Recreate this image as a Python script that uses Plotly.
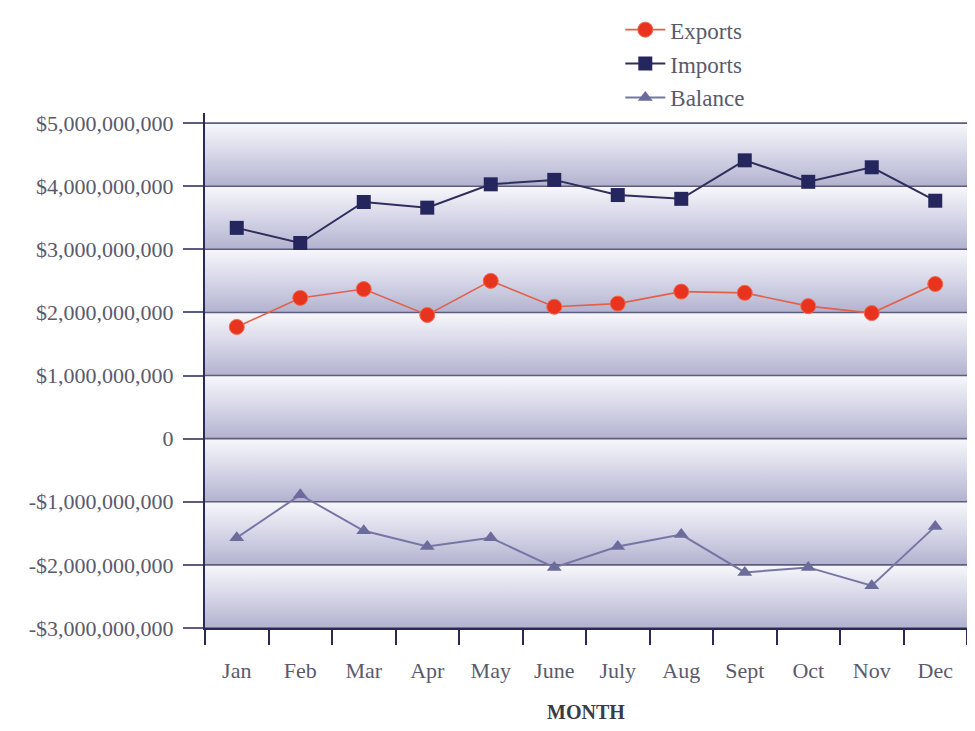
import plotly.graph_objects as go

months = ["Jan", "Feb", "Mar", "Apr", "May", "June", "July", "Aug", "Sept", "Oct", "Nov", "Dec"]
exports = [1.77e9, 2.23e9, 2.37e9, 1.96e9, 2.50e9, 2.09e9, 2.14e9, 2.33e9, 2.31e9, 2.10e9, 1.99e9, 2.45e9]
imports = [3.34e9, 3.10e9, 3.75e9, 3.66e9, 4.03e9, 4.10e9, 3.86e9, 3.80e9, 4.41e9, 4.07e9, 4.30e9, 3.77e9]
balance = [-1.57e9, -0.89e9, -1.46e9, -1.71e9, -1.57e9, -2.04e9, -1.71e9, -1.52e9, -2.12e9, -2.04e9, -2.33e9, -1.39e9]

y_tickvals = [5e9, 4e9, 3e9, 2e9, 1e9, 0, -1e9, -2e9, -3e9]
y_ticktext = ["$5,000,000,000", "$4,000,000,000", "$3,000,000,000", "$2,000,000,000",
              "$1,000,000,000", "0", "-$1,000,000,000", "-$2,000,000,000", "-$3,000,000,000"]

xpos = list(range(len(months)))
x0, x1 = -0.5, len(months) - 0.5

FONT = "Liberation Serif, DejaVu Serif, serif"
GRID = "#5c5c80"
AXIS = "#2a2a55"
TXT = "#5a5a6c"

fig = go.Figure()

# gradient background bands between gridlines
vals = sorted(y_tickvals)
for lo, hi in zip(vals[:-1], vals[1:]):
    fig.add_trace(go.Scatter(
        x=[x0, x1, x1, x0, x0], y=[lo, lo, hi, hi, lo],
        mode="lines", line=dict(width=0), fill="toself",
        fillgradient=dict(type="vertical", start=lo, stop=hi,
                          colorscale=[[0, "#b2b2cf"], [0.5, "#d6d6e8"], [1, "#f7f7fb"]]),
        showlegend=False, hoverinfo="skip"))

# gridlines drawn above the bands
gx, gy = [], []
for v in y_tickvals:
    gx += [x0, x1, None]
    gy += [v, v, None]
fig.add_trace(go.Scatter(x=gx, y=gy, mode="lines", line=dict(color=GRID, width=1.6),
                         showlegend=False, hoverinfo="skip"))

fig.add_trace(go.Scatter(
    x=xpos, y=exports, name="Exports", mode="lines+markers", legendgroup="a",
    line=dict(color="#e2604c", width=1.6),
    marker=dict(symbol="circle", size=15, color="#e8341f", line=dict(color="#f06a50", width=1))))
fig.add_trace(go.Scatter(
    x=xpos, y=imports, name="Imports", mode="lines+markers", legendgroup="b",
    line=dict(color="#2e2e5c", width=2),
    marker=dict(symbol="square", size=14, color="#26265e")))
fig.add_trace(go.Scatter(
    x=xpos, y=balance, name="Balance", mode="lines+markers", legendgroup="c",
    line=dict(color="#7676a6", width=2),
    marker=dict(symbol="triangle-up", size=13, color="#6c6c9c")))

fig.update_layout(
    width=959, height=715,
    margin=dict(l=197, r=0, t=105, b=95),
    paper_bgcolor="white", plot_bgcolor="white",
    font=dict(family=FONT, size=22, color=TXT),
    legend=dict(x=0.545, y=1.2035, xanchor="left", yanchor="top",
                font=dict(size=23, color=TXT), bgcolor="rgba(0,0,0,0)",
                traceorder="grouped", tracegroupgap=1, itemwidth=40),
    xaxis=dict(range=[x0, x1], tickmode="array", tickvals=xpos, ticktext=months,
               ticks="outside", ticklen=22, tickcolor="rgba(0,0,0,0)",
               minor=dict(tick0=-0.5, dtick=1, ticks="outside", ticklen=15,
                          tickwidth=2, tickcolor=AXIS, showgrid=False),
               showgrid=False, zeroline=False, showline=True, linecolor=AXIS, linewidth=2,
               automargin=False,
               tickfont=dict(size=22, color=TXT),
               title=dict(text="<b>MONTH</b>", font=dict(size=20, color="#3a3a48"), standoff=29)),
    yaxis=dict(range=[-3e9, 5.16e9], tickmode="array", tickvals=y_tickvals, ticktext=y_ticktext,
               ticks="outside", ticklen=20, tickwidth=1.6, tickcolor=GRID,
               ticklabelstandoff=5, automargin=False,
               showgrid=False, zeroline=False, showline=True, linecolor=AXIS, linewidth=2,
               tickfont=dict(size=22, color=TXT)),
)

fig.write_html("out.html")
